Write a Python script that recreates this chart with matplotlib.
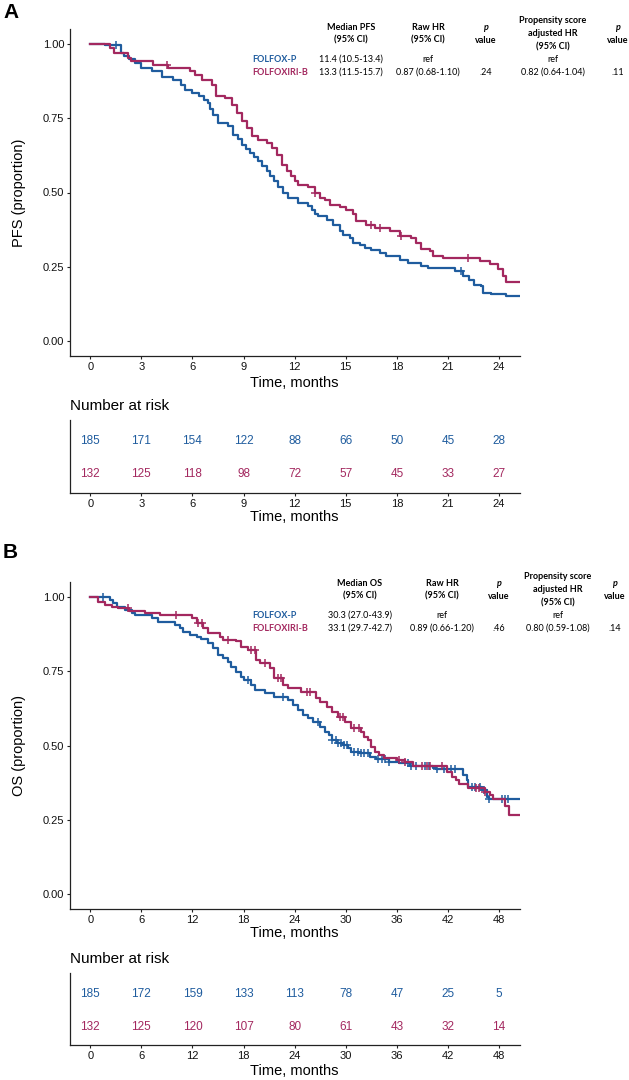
import numpy as np
import matplotlib
matplotlib.use('Agg')
import matplotlib.pyplot as plt

plt.rcParams['font.family'] = ['Liberation Sans', 'DejaVu Sans']

BLUE = '#1F5C9E'
RED = '#A3285F'

# ---------------- data ----------------
# PFS, FOLFOX-P
pfs_fp_t = [0, 0.87, 1.8, 2.0, 2.3, 2.6, 3.0, 3.6, 4.2, 4.85, 5.3, 5.55, 5.96, 6.4, 6.7,
            6.9, 7.05, 7.2, 7.5, 8.1, 8.4, 8.65, 8.9, 9.15, 9.4, 9.6, 9.85, 10.1, 10.35,
            10.55, 10.8, 11.05, 11.3, 11.6, 12.2, 12.79, 12.99, 13.18, 13.38, 13.87, 14.26,
            14.65, 14.85, 15.24, 15.43, 15.82, 16.11, 16.5, 16.99, 17.38, 18.16, 18.65,
            19.44, 19.83, 21.39, 21.87, 22.26, 22.55, 22.94, 23.08, 23.53, 24.41]
pfs_fp_s = [1.0, 0.995, 0.97, 0.96, 0.948, 0.936, 0.92, 0.909, 0.889, 0.879, 0.862, 0.845, 0.835, 0.825, 0.812,
            0.80, 0.78, 0.76, 0.735, 0.724, 0.695, 0.68, 0.66, 0.645, 0.633, 0.62, 0.607, 0.59, 0.573,
            0.555, 0.54, 0.52, 0.50, 0.482, 0.465, 0.454, 0.442, 0.426, 0.42, 0.409, 0.392,
            0.37, 0.358, 0.347, 0.33, 0.325, 0.314, 0.306, 0.295, 0.286, 0.274, 0.263,
            0.254, 0.246, 0.235, 0.218, 0.207, 0.19, 0.185, 0.163, 0.16, 0.151]
pfs_fp_cens = [1.5, 21.78]

# PFS, FOLFOXIRI-B
pfs_fb_t = [0, 1.16, 1.4, 2.2, 2.4, 3.7, 4.55, 5.85, 6.15, 6.55, 7.15, 7.4, 7.9, 8.3, 8.6,
            8.9, 9.2, 9.5, 9.85, 10.35, 10.65, 10.95, 11.25, 11.55, 11.8, 12.0, 12.2, 12.79,
            13.18, 13.47, 13.77, 14.06, 14.65, 15.04, 15.43, 15.62, 16.21, 16.7, 17.58, 18.16,
            18.85, 19.14, 19.44, 19.92, 20.12, 20.7, 22.86, 23.44, 23.93, 24.22, 24.42]
pfs_fb_s = [1.0, 0.986, 0.97, 0.953, 0.943, 0.929, 0.92, 0.909, 0.896, 0.879, 0.862, 0.825, 0.819, 0.795, 0.768,
            0.741, 0.718, 0.691, 0.678, 0.667, 0.651, 0.627, 0.594, 0.573, 0.556, 0.54, 0.526, 0.519,
            0.498, 0.482, 0.476, 0.459, 0.451, 0.442, 0.426, 0.403, 0.392, 0.381, 0.37, 0.355,
            0.347, 0.33, 0.31, 0.302, 0.286, 0.28, 0.269, 0.258, 0.241, 0.218, 0.2]
pfs_fb_cens = [4.5, 13.18, 16.5, 16.99, 18.26, 22.17]

# OS, FOLFOX-P
os_fp_t = [0, 2.31, 2.7, 3.1, 4.08, 4.86, 5.25, 7.2, 7.98, 9.94, 10.5, 10.9, 11.7, 12.5, 13.05,
           13.85, 14.4, 15.0, 15.6, 16.2, 16.56, 17.15, 17.7, 18.1, 18.9, 19.3, 20.5, 21.6,
           23.2, 23.8, 24.4, 25.0, 25.6, 26.2, 27.0, 27.6, 28.0, 28.4, 28.95, 29.7, 30.3, 30.6,
           31.6, 32.8, 33.6, 35.1, 36.3, 37.5, 40.2, 40.6, 43.77, 44.2, 44.4, 46.0, 46.6, 46.8]
os_fp_s = [1.0, 0.99, 0.979, 0.967, 0.956, 0.945, 0.939, 0.928, 0.917, 0.906, 0.895, 0.883, 0.872, 0.866, 0.857,
           0.844, 0.827, 0.805, 0.794, 0.782, 0.765, 0.748, 0.732, 0.72, 0.704, 0.687, 0.676, 0.664,
           0.653, 0.636, 0.62, 0.603, 0.591, 0.58, 0.563, 0.547, 0.535, 0.519, 0.51, 0.502, 0.49, 0.479,
           0.474, 0.462, 0.453, 0.445, 0.44, 0.431, 0.423, 0.42, 0.40, 0.384, 0.361, 0.35, 0.328, 0.32]
os_fp_cens = [1.53, 18.5, 22.6, 26.8, 28.4, 28.8, 29.1, 29.4, 29.8, 30.2, 31.0, 31.4, 31.8, 32.2,
              32.6, 33.8, 34.2, 34.6, 35.1, 37.3, 37.7, 38.3, 39.3, 39.8, 40.7, 41.5, 42.3, 42.8,
              44.8, 45.2, 45.8, 46.2, 46.8, 48.3, 48.7, 49.1]

# OS, FOLFOXIRI-B
os_fb_t = [0, 0.94, 1.72, 2.5, 3.3, 4.6, 6.43, 8.2, 11.9, 12.5, 13.25, 13.85, 15.2, 15.6, 17.15,
           17.7, 18.5, 19.5, 19.9, 21.1, 21.6, 22.6, 23.2, 24.8, 26.56, 27.0, 27.75, 28.35, 29.1,
           29.9, 30.6, 31.8, 32.2, 32.6, 33.0, 33.4, 33.9, 34.5, 36.0, 36.9, 37.9, 41.9, 42.5,
           42.9, 43.3, 44.3, 46.3, 46.9, 47.3, 48.7, 49.2]
os_fb_s = [1.0, 0.984, 0.973, 0.967, 0.962, 0.954, 0.947, 0.939, 0.928, 0.911, 0.895, 0.878, 0.866, 0.855, 0.85,
           0.833, 0.822, 0.788, 0.777, 0.76, 0.726, 0.704, 0.693, 0.679, 0.659, 0.648, 0.631, 0.614, 0.597,
           0.58, 0.558, 0.547, 0.53, 0.519, 0.496, 0.479, 0.468, 0.457, 0.451, 0.443, 0.431, 0.412, 0.395,
           0.384, 0.37, 0.356, 0.344, 0.333, 0.32, 0.295, 0.266]
os_fb_cens = [4.46, 10.1, 12.7, 13.1, 16.2, 18.9, 19.3, 20.5, 22.0, 22.4, 25.4, 25.8, 29.3, 29.7,
              31.0, 31.6, 36.3, 36.9, 38.9, 39.5, 39.9, 41.3, 45.3, 45.7, 46.3]

# number at risk
pfs_risk_times = [0, 3, 6, 9, 12, 15, 18, 21, 24]
pfs_risk_fp = [185, 171, 154, 122, 88, 66, 50, 45, 28]
pfs_risk_fb = [132, 125, 118, 98, 72, 57, 45, 33, 27]
os_risk_times = [0, 6, 12, 18, 24, 30, 36, 42, 48]
os_risk_fp = [185, 172, 159, 133, 113, 78, 47, 25, 5]
os_risk_fb = [132, 125, 120, 107, 80, 61, 43, 32, 14]

# summary tables
arms = ['FOLFOX-P', 'FOLFOXIRI-B']
pfs_median = ['11.4 (10.5-13.4)', '13.3 (11.5-15.7)']
pfs_raw_hr = ['ref', '0.87 (0.68-1.10)']
pfs_p1 = ['', '.24']
pfs_adj_hr = ['ref', '0.82 (0.64-1.04)']
pfs_p2 = ['', '.11']
os_median = ['30.3 (27.0-43.9)', '33.1 (29.7-42.7)']
os_raw_hr = ['ref', '0.89 (0.66-1.20)']
os_p1 = ['', '.46']
os_adj_hr = ['ref', '0.80 (0.59-1.08)']
os_p2 = ['', '.14']

for a, b in [(pfs_fp_t, pfs_fp_s), (pfs_fb_t, pfs_fb_s), (os_fp_t, os_fp_s), (os_fb_t, os_fb_s)]:
    assert len(a) == len(b)

# ---------------- figure ----------------
W, H = 629, 1080
fig = plt.figure(figsize=(W / 100, H / 100), dpi=100)


def box(left, top, right, bottom):
    return [left / W, 1 - bottom / H, (right - left) / W, (bottom - top) / H]


def style_axis(ax):
    for side in ['top', 'right']:
        ax.spines[side].set_visible(False)
    for side in ['left', 'bottom']:
        ax.spines[side].set_linewidth(0.9)
        ax.spines[side].set_color('#222222')
    ax.tick_params(length=2.5, width=0.8, color='#222222', labelsize=8, pad=1.5, labelcolor='#111111')


def km(ax, t, s, cens, color, xmax):
    t = np.array(t)
    s = np.array(s)
    ax.step(np.append(t, xmax), np.append(s, s[-1]), where='post', color=color, lw=1.6)
    idx = np.searchsorted(t, cens, side='right') - 1
    ax.plot(cens, s[idx], ls='none', marker='+', ms=6, mew=1.1, color=color)


def survival_panel(top, bottom, xmax, ticks, ylab, curves, xlab_off):
    ax = fig.add_axes(box(69.8, top, 519.5, bottom))
    for t, s, c, col in curves:
        km(ax, t, s, c, col, xmax)
    ax.set_xlim(-0.05 * (xmax / 1.05), xmax)
    ax.set_ylim(-0.05, 1.05)
    ax.set_xticks(ticks)
    ax.set_yticks([0, 0.25, 0.5, 0.75, 1.0])
    ax.set_yticklabels(['0.00', '0.25', '0.50', '0.75', '1.00'])
    style_axis(ax)
    ax.set_ylabel(ylab, fontsize=10.5)
    ax.yaxis.set_label_coords(-0.097, 0.5)
    ax.set_xlabel('Time, months', fontsize=10.5)
    ax.xaxis.set_label_coords(0.5, xlab_off)
    ax.xaxis.label.set_va('center')
    return ax


def risk_panel(top, bottom, xmax, times, n1, n2, xlab_off, title_y):
    ax = fig.add_axes(box(69.8, top, 519.5, bottom))
    ax.set_xlim(-0.05 * (xmax / 1.05), xmax)
    rows_px = 33.0
    ax.set_ylim(-(bottom - top - 21 - rows_px) / rows_px, 1 + 21 / rows_px)
    for x, a, b in zip(times, n1, n2):
        ax.text(x, 1, str(a), ha='center', va='center', color=BLUE, fontsize=8.5)
        ax.text(x, 0, str(b), ha='center', va='center', color=RED, fontsize=8.5)
    ax.set_xticks(times)
    ax.set_yticks([])
    style_axis(ax)
    ax.set_xlabel('Time, months', fontsize=10.5)
    ax.xaxis.set_label_coords(0.5, xlab_off)
    ax.xaxis.label.set_va('center')
    fig.text(70 / W, 1 - title_y / H, 'Number at risk', ha='left', va='center', fontsize=11)
    return ax


def table(y0, cols, med_head, values):
    # y0: pixel y of the first header line (two-line headers)
    tf = dict(family=['Lato', 'DejaVu Sans'], fontsize=6.5)
    step = 13.2
    heads = [[med_head, '(95% CI)'], ['Raw HR', '(95% CI)'], ['p', 'value'],
             ['Propensity score', 'adjusted HR', '(95% CI)'], ['p', 'value']]
    for xc, lines in zip(cols, heads):
        start = y0 if len(lines) == 2 else y0 - 6.5
        for k, line in enumerate(lines):
            style = 'italic' if line == 'p' else 'normal'
            fig.text(xc / W, 1 - (start + k * step) / H, line, ha='center', va='center',
                     fontweight='bold', fontstyle=style, **tf)
    row_y = [y0 + 32, y0 + 45.5]
    for r, (arm, col) in enumerate(zip(arms, [BLUE, RED])):
        fig.text(252 / W, 1 - row_y[r] / H, arm, ha='left', va='center', color=col,
                 fontweight='bold', **tf)
        for xc, vals in zip(cols, values):
            fig.text(xc / W, 1 - row_y[r] / H, vals[r], ha='center', va='center', **tf)


# Panel A
fig.text(3 / W, 1 - 13 / H, 'A', fontsize=15, fontweight='bold', ha='left', va='center')
survival_panel(29, 356, 25.2, pfs_risk_times, 'PFS (proportion)',
               [(pfs_fp_t, pfs_fp_s, pfs_fp_cens, BLUE), (pfs_fb_t, pfs_fb_s, pfs_fb_cens, RED)],
               -0.083)
table(27, [351, 428, 486, 553, 618], 'Median PFS',
      [pfs_median, pfs_raw_hr, pfs_p1, pfs_adj_hr, pfs_p2])
risk_panel(420, 493, 25.2, pfs_risk_times, pfs_risk_fp, pfs_risk_fb, -0.33, 406)

# Panel B
fig.text(3 / W, 1 - 553 / H, 'B', fontsize=15, fontweight='bold', ha='left', va='center')
survival_panel(582, 909, 50.4, os_risk_times, 'OS (proportion)',
               [(os_fp_t, os_fp_s, os_fp_cens, BLUE), (os_fb_t, os_fb_s, os_fb_cens, RED)],
               -0.073)
table(583, [360, 442, 499, 558, 615], 'Median OS',
      [os_median, os_raw_hr, os_p1, os_adj_hr, os_p2])
risk_panel(973, 1045, 50.4, os_risk_times, os_risk_fp, os_risk_fb, -0.36, 959)

fig.savefig('out.png', dpi=100)
